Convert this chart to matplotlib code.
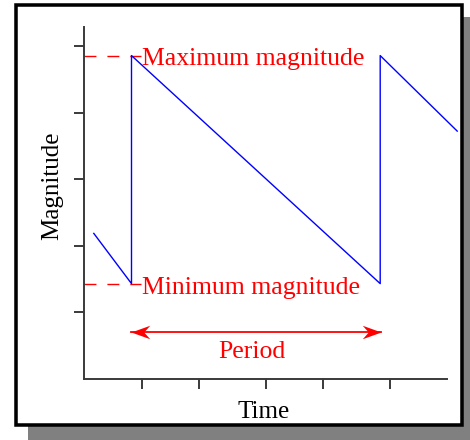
import matplotlib
matplotlib.use("Agg")
import matplotlib.pyplot as plt
from matplotlib.patches import Rectangle
from matplotlib.path import Path

# ---- data ----
time_vals = [1.03, 4.80, 4.80, 29.67, 29.67, 37.37]
magnitude_vals = [1.186, 0.432, 3.856, 0.432, 3.856, 2.722]
max_mag = 3.856
min_mag = 0.432
period_start = 4.78
period_end = 29.70
period_y = -0.296
x_ticks = [5.80, 11.53, 18.20, 23.93, 30.63]
y_ticks = [0, 1, 2, 3, 4]
label_max = "Maximum magnitude"
label_min = "Minimum magnitude"
label_period = "Period"
x_label = "Time"
y_label = "Magnitude"

W, H = 470, 440
fig = plt.figure(figsize=(W / 100, H / 100), dpi=100)
fig.patch.set_facecolor("white")

# shadow and frame
shadow = Rectangle((28 / W, 0), 449 / W, (H - 16.7) / H, transform=fig.transFigure,
                   facecolor="#808080", edgecolor="none", zorder=-3)
frame = Rectangle((15.7 / W, (H - 425.3) / H), (461.7 - 15.7) / W, (425.3 - 5) / H,
                  transform=fig.transFigure, facecolor="white", edgecolor="black",
                  linewidth=2.55, zorder=-2)
fig.patches.extend([shadow, frame])

ax_l, ax_r, ax_t, ax_b = 83.5, 447, 27, 379
ax = fig.add_axes([ax_l / W, (H - ax_b) / H, (ax_r - ax_l) / W, (ax_b - ax_t) / H])
ax.patch.set_visible(False)
ax.set_xlim(0, (ax_r - ax_l) / 10)
ax.set_ylim(-1.0, 4.285)

for s in ["top", "right"]:
    ax.spines[s].set_visible(False)
for s in ["left", "bottom"]:
    ax.spines[s].set_color("#3a3a3a")
    ax.spines[s].set_linewidth(1.4)
ax.set_xticks(x_ticks)
ax.set_yticks(y_ticks)
ax.tick_params(axis="both", direction="out", length=7, width=1.4, color="#3a3a3a",
               labelleft=False, labelbottom=False)

serif = ["Liberation Serif", "DejaVu Serif"]

# sawtooth
ax.plot(time_vals, magnitude_vals, color="#0000ff", lw=1.0, clip_on=False, zorder=3)

# dashed reference lines
for yv in (max_mag, min_mag):
    ax.plot([0, 5.75], [yv, yv], color="#ff0000", lw=1.0, dashes=(8.6, 7.9), zorder=2,
            clip_on=False)

ax.annotate(label_max, xy=(time_vals[1], max_mag), xytext=(7.6, -6.6),
            textcoords="offset points", ha="left", va="baseline", color="#ff0000",
            fontsize=18.5, family=serif)
ax.annotate(label_min, xy=(time_vals[1], min_mag), xytext=(7.6, -7.5),
            textcoords="offset points", ha="left", va="baseline", color="#ff0000",
            fontsize=18.5, family=serif)

# period arrow
ax.plot([period_start, period_end], [period_y, period_y], color="#ff0000", lw=1.3, zorder=2)
head_r = Path([(0, 0), (-1, 0.36), (-0.68, 0), (-1, -0.36), (0, 0)],
              [Path.MOVETO, Path.LINETO, Path.LINETO, Path.LINETO, Path.CLOSEPOLY])
head_l = Path([(0, 0), (1, 0.36), (0.68, 0), (1, -0.36), (0, 0)],
              [Path.MOVETO, Path.LINETO, Path.LINETO, Path.LINETO, Path.CLOSEPOLY])
ax.plot([period_end], [period_y], marker=head_r, ms=27, color="#ff0000", mew=0,
        linestyle="none", zorder=3)
ax.plot([period_start], [period_y], marker=head_l, ms=27, color="#ff0000", mew=0,
        linestyle="none", zorder=3)
ax.text((period_start + period_end) / 2 - 0.35, -0.686, label_period, ha="center",
        va="baseline", color="#ff0000", fontsize=18.5, family=serif)

ax.set_xlabel(x_label, fontsize=18, family=serif, color="black")
ax.xaxis.set_label_coords(0.4946, -0.062)
ax.set_ylabel(y_label, fontsize=18, family=serif, color="black")
ax.yaxis.set_label_coords(-0.055, 0.55)

fig.savefig("out.png", dpi=100, facecolor="white")
